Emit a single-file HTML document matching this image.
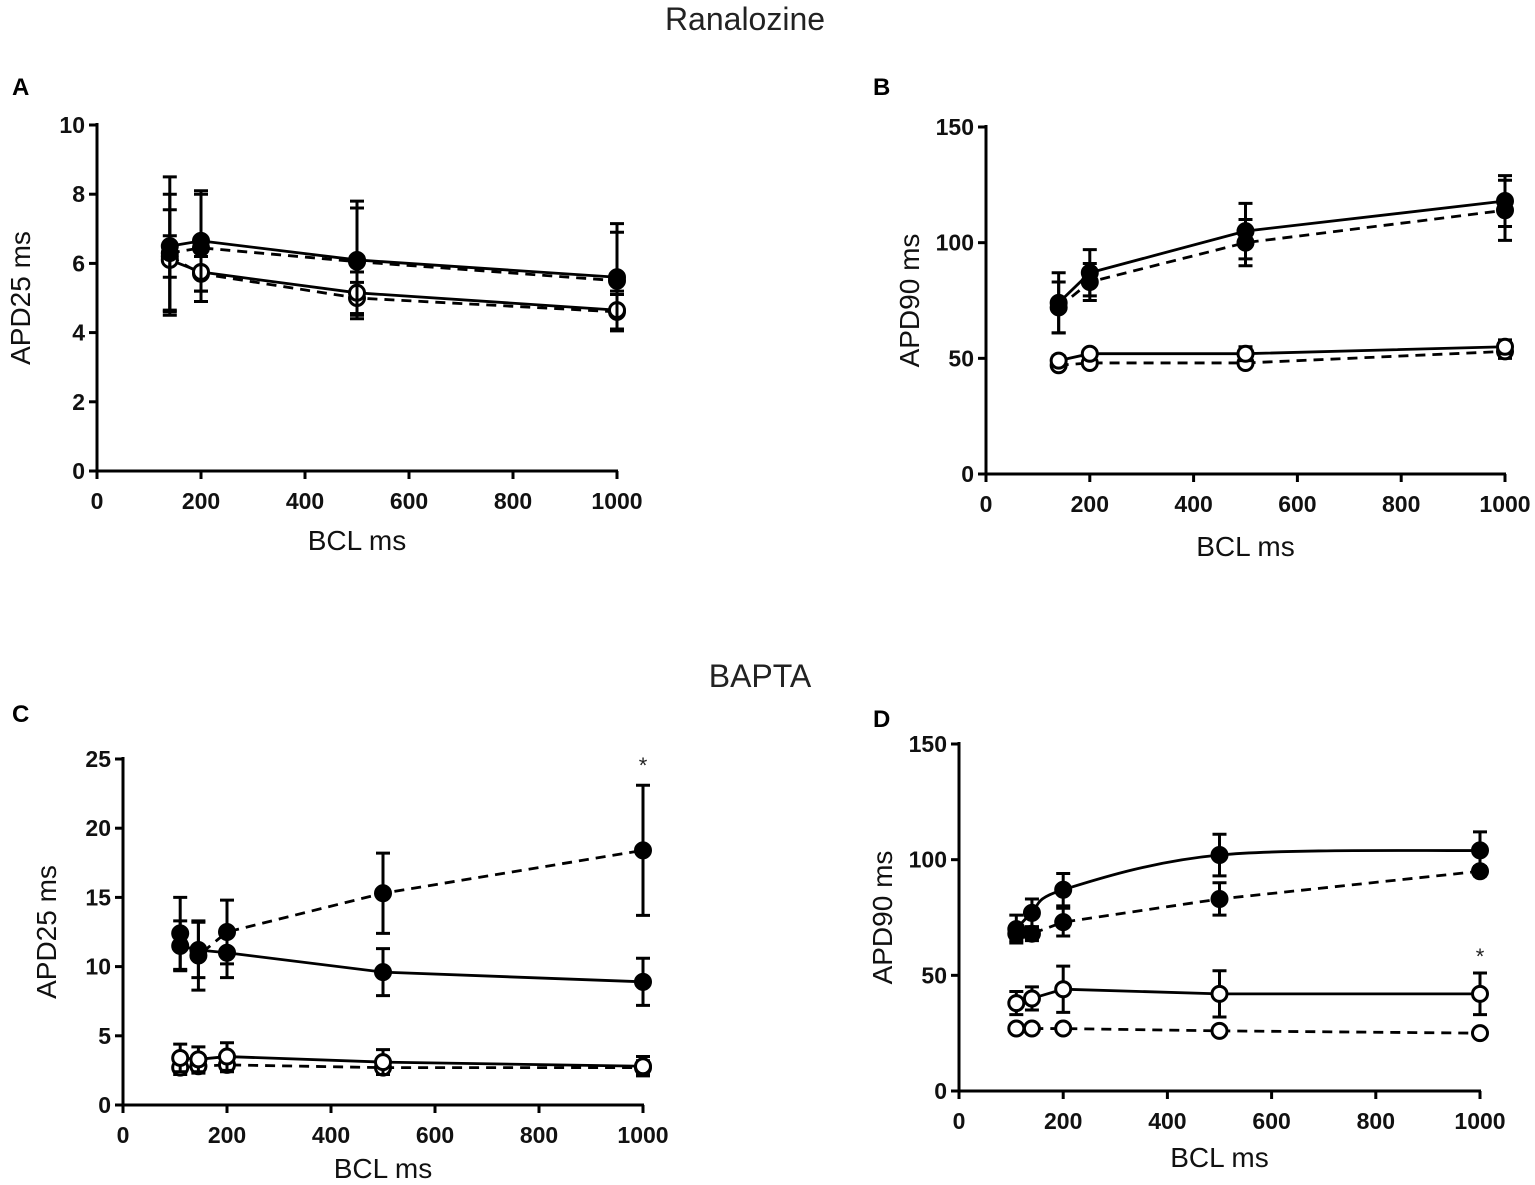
<!DOCTYPE html>
<html><head><meta charset="utf-8"><style>
body{margin:0;background:#fff;}
svg{display:block;font-family:"Liberation Sans",Arial,sans-serif;}
.tick{font-size:23px;font-weight:bold;fill:#111;}
.atitle{font-size:28px;fill:#111;}
</style></head><body>
<svg id="fig" width="1535" height="1185" viewBox="0 0 1535 1185">
<text x="745" y="30" text-anchor="middle" font-size="32" fill="#222">Ranalozine</text>
<text x="760" y="687" text-anchor="middle" font-size="32" fill="#222">BAPTA</text>
<text x="12" y="95" font-size="24" font-weight="bold">A</text>
<text x="873" y="95" font-size="24" font-weight="bold">B</text>
<text x="12" y="722" font-size="24" font-weight="bold">C</text>
<text x="873" y="727" font-size="24" font-weight="bold">D</text>
</svg>
<script>
// Panel A data
const aX=[140,200,500,1000];
const aFilledSolid=[6.5,6.65,6.1,5.6];
const aFilledSolidErr=[2.0,1.45,1.7,1.55];
const aFilledDashed=[6.3,6.45,6.05,5.5];
const aFilledDashedErr=[1.7,1.55,1.55,1.4];
const aOpenSolid=[6.1,5.75,5.15,4.65];
const aOpenSolidErr=[1.45,0.85,0.6,0.55];
const aOpenDashed=[6.2,5.7,5.0,4.6];
const aOpenDashedErr=[0.6,0.5,0.45,0.5];
const aYTicks=[0,2,4,6,8,10];
// Panel B data
const bX=[140,200,500,1000];
const bFilledSolid=[74,87,105,118];
const bFilledSolidErr=[13,10,12,11];
const bFilledDashed=[72,83,100,114];
const bFilledDashedErr=[11,8,10,13];
const bOpenSolid=[49,52,52,55];
const bOpenSolidErr=[2,1,3,3];
const bOpenDashed=[47,48,48,53];
const bOpenDashedErr=[1,1,2,3];
const bYTicks=[0,50,100,150];
// Panel C data
const cX=[110,145,200,500,1000];
const cFilledDashed=[12.4,10.8,12.5,15.3,18.4];
const cFilledDashedErr=[2.6,2.5,2.3,2.9,4.7];
const cFilledSolid=[11.5,11.2,11.0,9.6,8.9];
const cFilledSolidErr=[1.8,2.0,1.8,1.7,1.7];
const cOpenSolid=[3.4,3.3,3.5,3.1,2.8];
const cOpenSolidErr=[1.0,0.9,1.0,0.9,0.7];
const cOpenDashed=[2.7,2.8,2.9,2.7,2.7];
const cOpenDashedErr=[0.5,0.5,0.5,0.5,0.5];
const cYTicks=[0,5,10,15,20,25];
// Panel D data
const dX=[110,140,200,500,1000];
const dFilledSolid=[70,77,87,102,104];
const dFilledSolidErr=[6,6,7,9,8];
const dFilledDashed=[68,68,73,83,95];
const dFilledDashedErr=[3,3,6,7,2];
const dOpenSolid=[38,40,44,42,42];
const dOpenSolidErr=[5,5,10,10,9];
const dOpenDashed=[27,27,27,26,25];
const dOpenDashedErr=[1,1,1,1,1];
const dYTicks=[0,50,100,150];
const xTicks=[0,200,400,600,800,1000];

const NS="http://www.w3.org/2000/svg";
const svg=document.getElementById('fig');
function el(tag,attrs,parent){const e=document.createElementNS(NS,tag);for(const k in attrs)e.setAttribute(k,attrs[k]);(parent||svg).appendChild(e);return e;}

function panel(id,px0,px1,py0,py1,ymax,yTicks,ytitle,series,star,xtOff){
  const g=el('g',{});
  
  
  const sx=v=>px0+(px1-px0)*v/1000;
  const sy=v=>py0-(py0-py1)*v/ymax;
  const ax=el('path',{d:`M${px0} ${py1-2}V${py0}H${px1+1}`,stroke:'#000','stroke-width':3,fill:'none'},g);
  
  
  yTicks.forEach(t=>{
    el('line',{x1:px0-8,x2:px0,y1:sy(t),y2:sy(t),stroke:'#000','stroke-width':3},g);
    const tx=el('text',{x:px0-12,y:sy(t)+8,'text-anchor':'end',class:'tick'},g);
    tx.textContent=t;
    
    
  });
  xTicks.forEach(t=>{
    el('line',{x1:sx(t),x2:sx(t),y1:py0,y2:py0+8,stroke:'#000','stroke-width':3},g);
    const tx=el('text',{x:sx(t),y:py0+38,'text-anchor':'middle',class:'tick'},g);
    tx.textContent=t;
    
    
  });
  const xt=el('text',{x:(px0+px1)/2,y:py0+xtOff,'text-anchor':'middle',class:'atitle'},g);
  xt.textContent='BCL ms';
  
  
  const yc=(py0+py1)/2;
  const yt=el('text',{x:px0-67,y:yc,'text-anchor':'middle',class:'atitle',transform:`rotate(-90 ${px0-67} ${yc})`},g);
  yt.textContent=ytitle;
  
  
  series.forEach(s=>{
    const pts=s.xs.map((x,i)=>[sx(x),sy(s.ys[i])]);
    let d;
    if(s.smooth){
      d=`M${pts[0][0]} ${pts[0][1]}`;
      for(let i=0;i<pts.length-1;i++){
        const p0=pts[Math.max(0,i-1)],p1=pts[i],p2=pts[i+1],p3=pts[Math.min(pts.length-1,i+2)];
        d+=`C${p1[0]+(p2[0]-p0[0])/6} ${p1[1]+(p2[1]-p0[1])/6} ${p2[0]-(p3[0]-p1[0])/6} ${p2[1]-(p3[1]-p1[1])/6} ${p2[0]} ${p2[1]}`;
      }
    } else d='M'+pts.map(p=>p.join(' ')).join('L');
    const ln=el('path',{d,fill:'none',stroke:'#000','stroke-width':2.8,'stroke-dasharray':s.dash?'10 7':'none'},g);
    
    
    s.xs.forEach((x,i)=>{
      const X=sx(x),Y=sy(s.ys[i]),hi=sy(s.ys[i]+s.err[i]),lo=sy(s.ys[i]-s.err[i]);
      const eb=el('path',{d:`M${X} ${hi}V${lo}M${X-7} ${hi}H${X+7}M${X-7} ${lo}H${X+7}`,stroke:'#000','stroke-width':3,fill:'none'},g);
      
      
      const c=el('circle',{cx:X,cy:Y,r:7.5,fill:s.open?'#fff':'#000',stroke:'#000','stroke-width':3},g);
      
      
    });
  });
  if(star){
    const st=el('text',{x:sx(1000),y:sy(star),'text-anchor':'middle','font-size':22,fill:'#222'},g);
    st.textContent='*';
    
    
  }
}
panel('a',97,617,471,125,10,aYTicks,'APD25 ms',[
 {name:'open-dashed',xs:aX,ys:aOpenDashed,err:aOpenDashedErr,open:true,dash:true},
 {name:'open-solid',xs:aX,ys:aOpenSolid,err:aOpenSolidErr,open:true},
 {name:'filled-dashed',xs:aX,ys:aFilledDashed,err:aFilledDashedErr,dash:true},
 {name:'filled-solid',xs:aX,ys:aFilledSolid,err:aFilledSolidErr}],null,79);
panel('b',986,1505,474,127,150,bYTicks,'APD90 ms',[
 {name:'open-dashed',xs:bX,ys:bOpenDashed,err:bOpenDashedErr,open:true,dash:true},
 {name:'open-solid',xs:bX,ys:bOpenSolid,err:bOpenSolidErr,open:true},
 {name:'filled-dashed',xs:bX,ys:bFilledDashed,err:bFilledDashedErr,dash:true},
 {name:'filled-solid',xs:bX,ys:bFilledSolid,err:bFilledSolidErr}],null,82);
panel('c',123,643,1105,759,25,cYTicks,'APD25 ms',[
 {name:'open-dashed',xs:cX,ys:cOpenDashed,err:cOpenDashedErr,open:true,dash:true},
 {name:'open-solid',xs:cX,ys:cOpenSolid,err:cOpenSolidErr,open:true},
 {name:'filled-dashed',xs:cX,ys:cFilledDashed,err:cFilledDashedErr,dash:true},
 {name:'filled-solid',xs:cX,ys:cFilledSolid,err:cFilledSolidErr}],24,73);
panel('d',959,1480,1091,744,150,dYTicks,'APD90 ms',[
 {name:'open-dashed',xs:dX,ys:dOpenDashed,err:dOpenDashedErr,open:true,dash:true},
 {name:'open-solid',xs:dX,ys:dOpenSolid,err:dOpenSolidErr,open:true},
 {name:'filled-dashed',xs:dX,ys:dFilledDashed,err:dFilledDashedErr,dash:true},
 {name:'filled-solid',xs:dX,ys:dFilledSolid,err:dFilledSolidErr,smooth:true}],55,76);
</script>
</body></html>
